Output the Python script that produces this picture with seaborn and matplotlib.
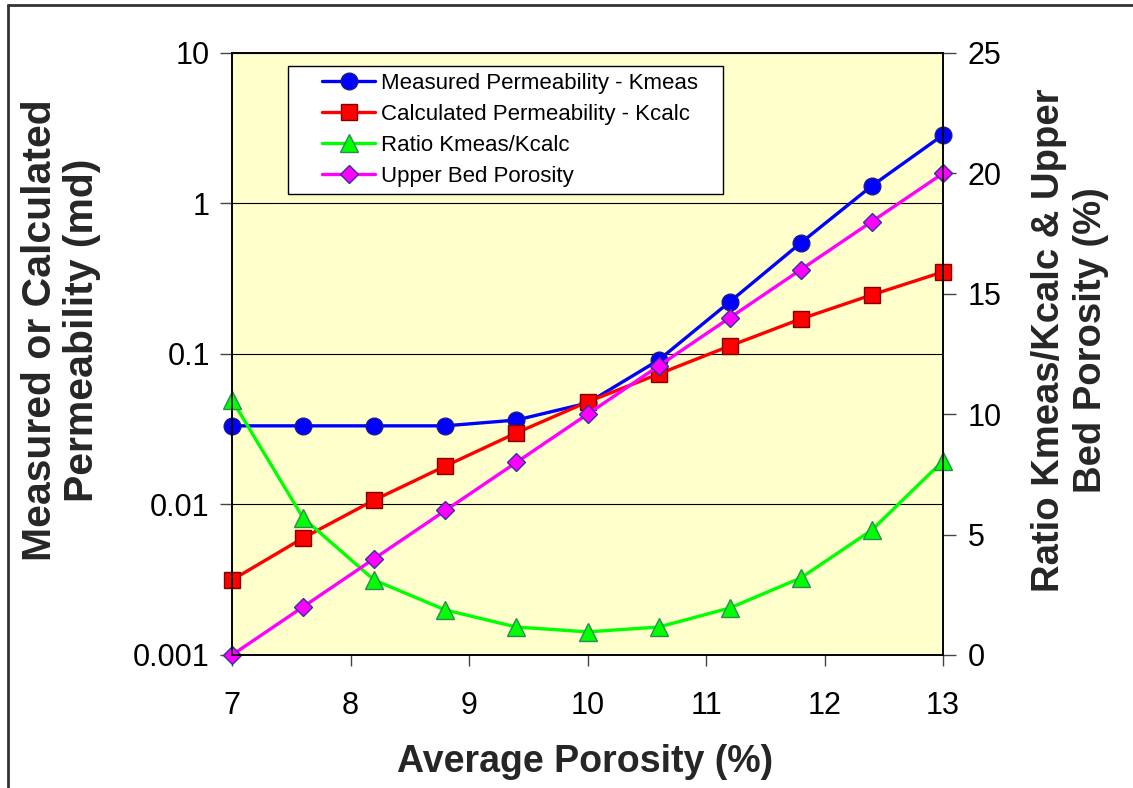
import matplotlib
matplotlib.use("Agg")
import matplotlib.pyplot as plt
from matplotlib.lines import Line2D
from matplotlib.patches import Rectangle
import seaborn as sns
import pandas as pd

# ---- data ----
porosity = [7.0, 7.6, 8.2, 8.8, 9.4, 10.0, 10.6, 11.2, 11.8, 12.4, 13.0]
k_meas = [0.0333, 0.0333, 0.0333, 0.0333, 0.0364, 0.0472, 0.091, 0.222, 0.547, 1.31, 2.85]
k_calc = [0.00315, 0.00599, 0.0107, 0.0180, 0.0299, 0.048, 0.0736, 0.113, 0.171, 0.247, 0.351]
ratio = [10.59, 5.69, 3.11, 1.87, 1.16, 0.96, 1.16, 1.95, 3.2, 5.19, 8.06]
upper_bed = [0, 2, 4, 6, 8, 10, 12, 14, 16, 18, 20]

left_ticks = [0.001, 0.01, 0.1, 1, 10]
left_ticklabels = ["0.001", "0.01", "0.1", "1", "10"]
right_ticks = [0, 5, 10, 15, 20, 25]
x_ticks = [7, 8, 9, 10, 11, 12, 13]

names = ["Measured Permeability - Kmeas", "Calculated Permeability - Kcalc",
         "Ratio Kmeas/Kcalc", "Upper Bed Porosity"]

df = pd.DataFrame({"x": porosity, "kmeas": k_meas, "kcalc": k_calc,
                   "ratio": ratio, "upper": upper_bed})

sns.set_theme(style="white")
plt.rcParams["font.family"] = ["Liberation Sans", "DejaVu Sans"]

fig = plt.figure(figsize=(11.33, 7.88), dpi=100)
ax = fig.add_axes([0.2048, 0.1688, 0.6275, 0.7640])
ax.set_facecolor("#FFFFCC")
ax2 = ax.twinx()
ax2.patch.set_visible(False)

lw = 2.4
sns.lineplot(data=df, x="x", y="kmeas", ax=ax, color="#0000FF", marker="o",
             markersize=12, markeredgecolor="#1A1A8C", markeredgewidth=1,
             linewidth=lw, label=names[0], clip_on=False)
sns.lineplot(data=df, x="x", y="kcalc", ax=ax, color="#FF0000", marker="s",
             markersize=11, markeredgecolor="#800000", markeredgewidth=1,
             linewidth=lw, label=names[1], clip_on=False)
sns.lineplot(data=df, x="x", y="ratio", ax=ax2, color="#00FF00", marker="^",
             markersize=13, markeredgecolor="#2E8B57", markeredgewidth=1,
             linewidth=lw, label=names[2], clip_on=False)
sns.lineplot(data=df, x="x", y="upper", ax=ax2, color="#FF00FF", marker="D",
             markersize=9.5, markeredgecolor="#333399", markeredgewidth=1,
             linewidth=lw, label=names[3], clip_on=False)

for a in (ax, ax2):
    if a.get_legend() is not None:
        a.get_legend().remove()
    a.set_xlabel("")
    a.set_ylabel("")

ax.set_yscale("log")
ax.set_ylim(0.001, 10)
ax.set_yticks(left_ticks)
ax.set_yticklabels(left_ticklabels)
ax.minorticks_off()
ax.set_xlim(7, 13)
ax.set_xticks(x_ticks)
ax.set_xticklabels([str(t) for t in x_ticks])
ax2.set_ylim(0, 25)
ax2.set_yticks(right_ticks)
ax2.set_yticklabels([str(t) for t in right_ticks])

ax.yaxis.grid(True, which="major", color="black", linewidth=0.8)
ax.xaxis.grid(False)

for a in (ax, ax2):
    for s in a.spines.values():
        s.set_color("black")
        s.set_linewidth(1.2)
        s.set_visible(True)

ax.tick_params(axis="y", which="major", direction="out", length=9, width=1,
               color="#444444", labelsize=22, pad=7, left=True,
               labelcolor="black")
ax.tick_params(axis="x", which="major", direction="out", length=8, width=1,
               color="#444444", labelsize=22, pad=18, bottom=True,
               labelcolor="black")
ax2.tick_params(axis="y", which="major", direction="out", length=9, width=1,
                color="#444444", labelsize=22, pad=9, right=True,
                labelcolor="black")

# legend frame (Excel-style box with extra left space)
frame = Rectangle((0.0788, 0.7658), 0.6906 - 0.0788, 0.9784 - 0.7658,
                  transform=ax2.transAxes, facecolor="white",
                  edgecolor="black", linewidth=1, zorder=4.5)
ax2.add_patch(frame)

h1, l1 = ax.get_legend_handles_labels()
h2, l2 = ax2.get_legend_handles_labels()
leg = ax2.legend(h1 + h2, l1 + l2, loc="upper left",
                 bbox_to_anchor=(0.1266, 0.9665), fontsize=16,
                 frameon=False, borderpad=0,
                 labelspacing=0.45, handlelength=2.4, handletextpad=0.25,
                 borderaxespad=0)
leg.set_zorder(5)
for t in leg.get_texts():
    t.set_color("black")

fig.text(0.516, 0.033, "Average Porosity (%)", ha="center", va="center",
         fontsize=27, fontweight="bold")
fig.text(0.0535, 0.581, "Measured or Calculated\nPermeability (md)",
         ha="center", va="center", rotation=90, fontsize=29.5,
         fontweight="bold", multialignment="center", linespacing=1.13)
fig.text(0.9444, 0.5685, "Ratio Kmeas/Kcalc & Upper\nBed Porosity (%)",
         ha="center", va="center", rotation=90, fontsize=27.5,
         fontweight="bold", multialignment="center", linespacing=1.2)

# outer chart border (top and left visible)
fig.add_artist(Line2D([7.5 / 1133, 7.5 / 1133], [0, 1 - 4.5 / 788],
                      transform=fig.transFigure, color="#333333", linewidth=2))
fig.add_artist(Line2D([7.5 / 1133, 1], [1 - 4.5 / 788, 1 - 4.5 / 788],
                      transform=fig.transFigure, color="#333333", linewidth=2))

fig.savefig("out.png", dpi=100, facecolor="white")
